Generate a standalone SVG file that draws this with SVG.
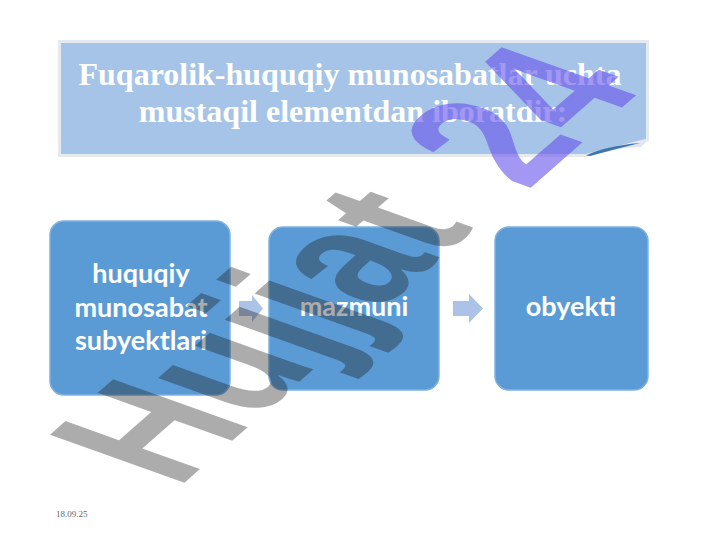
<svg xmlns="http://www.w3.org/2000/svg" width="720" height="540" viewBox="0 0 720 540">
<defs>
<style>
.title{font-family:"Liberation Serif","Times New Roman",serif;font-weight:bold;font-size:32px;fill:#ffffff;text-anchor:middle}
.node rect{fill:#5b9bd5;stroke:#7fb1df;stroke-width:1.5}
.lbl{font-family:Lato,"Open Sans",sans-serif;font-weight:bold;font-size:27px;fill:#ffffff;text-anchor:middle}
.arrow{fill:#abc3e6}
.wm{font-family:"Liberation Sans",Arial,sans-serif;font-weight:bold;font-size:100px}
</style>
<linearGradient id="g24" gradientUnits="userSpaceOnUse" x1="0" y1="40" x2="0" y2="200">
<stop offset="0" stop-color="#6752ed"/>
<stop offset="0.5" stop-color="#7f6cef"/>
<stop offset="1" stop-color="#c593f7"/>
</linearGradient>
</defs>
<rect width="720" height="540" fill="#ffffff"/>
<g id="title">
<path d="M59.5,41.5 H647.5 V140 L586,155.5 H59.5 Z" fill="#a5c4e7" stroke="#e6e9ee" stroke-width="3"/>
<path d="M586,155.5 L647.5,140 L641,147 Q612,148 586,155.5 Z" fill="#dfe6ef"/>
<path d="M586,155.5 Q605,146 640,143 Q612,150 590,156 Z" fill="#3f75ae"/>
<text class="title" x="350" y="85">Fuqarolik-huquqiy munosabatlar uchta</text>
<text class="title" x="353" y="122">mustaqil elementdan iboratdir:</text>
</g>
<g id="connectors">
<path class="arrow" d="M239,301 H252 V295 L263,308.5 L252,322 V316 H239 Z"/>
<path class="arrow" d="M453,301 H469 V294 L483,308.5 L469,323 V316 H453 Z"/>
</g>
<g id="node1" class="node">
<rect x="50" y="221" width="180" height="174" rx="14"/>
<text class="lbl" x="141" y="283">huquqiy</text>
<text class="lbl" x="141" y="317">munosabat</text>
<text class="lbl" x="141" y="350">subyektlari</text>
</g>
<g id="node2" class="node">
<rect x="269" y="227" width="170" height="163" rx="14"/>
<text class="lbl" x="354" y="316">mazmuni</text>
</g>
<g id="node3" class="node">
<rect x="495" y="227" width="153" height="163" rx="14"/>
<text class="lbl" x="571" y="316">obyekti</text>
</g>
<g id="footer">
<text x="56" y="517" font-family="Liberation Serif,serif" font-size="9" fill="#666666">18.09.25</text>
</g>
<g id="watermark">
<text class="wm" fill="#1a1a1a" fill-opacity="0.36" transform="matrix(1.075 -0.943 1.955 0.698 177.2 488.9)">Hujjat</text>
<text class="wm" fill="url(#g24)" fill-opacity="0.6" transform="matrix(1.075 -0.943 1.955 0.698 527 191)">24</text>
</g>
</svg>
